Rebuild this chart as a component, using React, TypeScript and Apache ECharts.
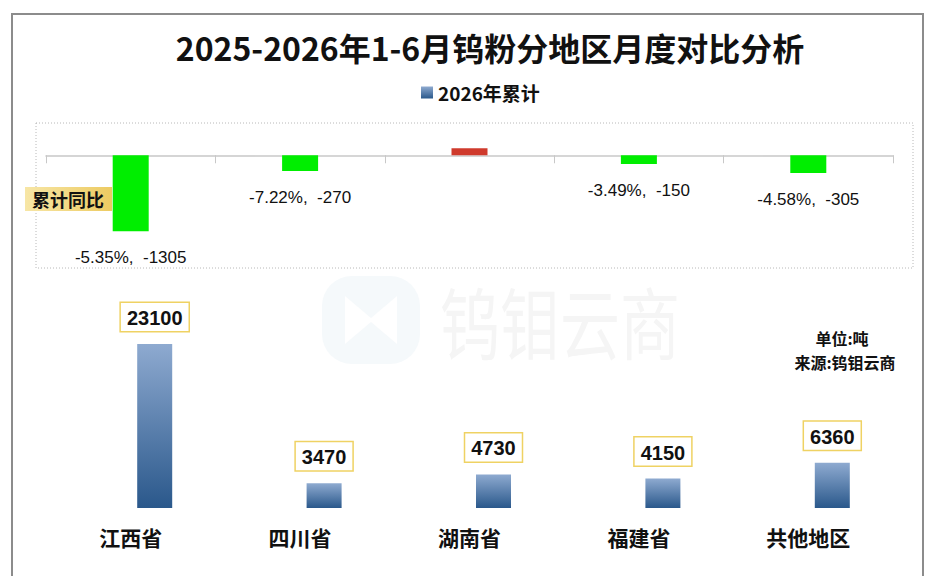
import React, { useEffect, useRef } from 'react';
import * as echarts from 'echarts';

const regions = ['江西省', '四川省', '湖南省', '福建省', '共他地区'];
const cumulative2026 = [23100, 3470, 4730, 4150, 6360];
const yoyChange = [-1305, -270, 120, -150, -305];
const yoyPct: (number | null)[] = [-5.35, -7.22, null, -3.49, -4.58];

const CJK = '"Noto Sans CJK SC", "Noto Sans", sans-serif';
const NUM = '"Liberation Sans", Arial, sans-serif';

export default function App() {
  const ref = useRef<HTMLDivElement>(null);
  useEffect(() => {
    document.body.style.margin = '0';
    const chart = echarts.init(ref.current!, null, { renderer: 'svg' });
    const barGrad = new echarts.graphic.LinearGradient(0, 0, 0, 1, [
      { offset: 0, color: '#8eaad0' },
      { offset: 1, color: '#2a588b' },
    ]);
    chart.setOption({
      animation: false,
      backgroundColor: '#ffffff',
      title: {
        text: '2025-2026年1-6月钨粉分地区月度对比分析',
        left: 485,
        top: 26,
        textAlign: 'center',
        textStyle: { fontFamily: CJK, fontSize: 32, fontWeight: 'bold', color: '#111' },
      },
      legend: {
        data: ['2026年累计'],
        left: 416,
        top: 78,
        icon: 'rect',
        itemWidth: 12,
        itemHeight: 12,
        itemGap: 4,
        textStyle: { fontFamily: CJK, fontSize: 19, fontWeight: 'bold', color: '#111' },
      },
      grid: [
        { left: 46, right: 36, top: 132, height: 128 },
        { left: 70, right: 12, top: 295, height: 213 },
      ],
      xAxis: [
        {
          type: 'category',
          gridIndex: 0,
          data: regions,
          axisLine: { onZero: true, lineStyle: { color: '#c8c8c8', width: 1.5 } },
          axisTick: { show: true, length: 8, lineStyle: { color: '#c8c8c8' } },
          axisLabel: { show: false },
        },
        {
          type: 'category',
          gridIndex: 1,
          data: regions,
          axisLine: { show: false },
          axisTick: { show: false },
          axisLabel: {
            margin: 18,
            fontFamily: CJK,
            fontSize: 21,
            fontWeight: 'bold',
            color: '#111',
            padding: [0, 48, 0, 0],
          },
        },
      ],
      yAxis: [
        { type: 'value', gridIndex: 0, min: -1800, max: 400, show: false, splitLine: { show: false } },
        { type: 'value', gridIndex: 1, min: 0, max: 30000, show: false, splitLine: { show: false } },
      ],
      series: [
        {
          name: '累计同比',
          type: 'bar',
          xAxisIndex: 0,
          yAxisIndex: 0,
          barWidth: 36,
          data: yoyChange.map((v, i) => ({
            value: v,
            itemStyle: { color: v < 0 ? '#00ee00' : '#cf3a2c' },
            label: { show: yoyPct[i] != null },
          })),
          label: {
            show: true,
            position: 'outside',
            distance: 18,
            fontFamily: NUM,
            fontSize: 17,
            color: '#111',
            formatter: (p: any) => {
              const pct = yoyPct[p.dataIndex];
              return pct == null ? '' : `${pct.toFixed(2)}%,  ${yoyChange[p.dataIndex]}`;
            },
          },
          z: 3,
        },
        {
          name: '2026年累计',
          type: 'bar',
          xAxisIndex: 1,
          yAxisIndex: 1,
          barWidth: 35,
          data: cumulative2026,
          itemStyle: { color: barGrad },
          label: {
            show: true,
            position: 'top',
            distance: 13,
            fontFamily: NUM,
            fontSize: 20,
            fontWeight: 'bold',
            color: '#111',
            backgroundColor: '#ffffff',
            borderColor: '#efd263',
            borderWidth: 1.5,
            padding: [5, 6, 3, 6],
          },
          z: 3,
        },
      ],
      graphic: [
        {
          type: 'rect',
          z: 0,
          shape: { x: 12, y: 14, width: 911, height: 600 },
          style: { fill: 'none', stroke: '#8c8c8c', lineWidth: 2 },
        },
        {
          type: 'rect',
          z: 0,
          shape: { x: 36, y: 123, width: 877, height: 145 },
          style: { fill: 'none', stroke: '#b8b8b8', lineWidth: 1, lineDash: [1, 2] },
        },
        {
          type: 'rect',
          z: 0,
          shape: { x: 322, y: 276, width: 98, height: 88, r: 30 },
          style: { fill: '#f5f9fb' },
        },
        {
          type: 'polygon',
          z: 0,
          shape: { points: [[345, 296], [371, 318], [397, 296], [397, 344], [371, 322], [345, 344]] },
          style: { fill: '#ffffff' },
        },
        {
          type: 'text',
          z: 0,
          x: 560,
          y: 320,
          scaleY: 1.3,
          style: {
            text: '钨钼云商',
            fontFamily: CJK,
            fontSize: 60,
            fill: '#f5f5f5',
            align: 'center',
            verticalAlign: 'middle',
          },
        },
        {
          type: 'rect',
          z: 4,
          shape: { x: 25, y: 187, width: 87, height: 24 },
          style: {
            fill: new echarts.graphic.LinearGradient(0, 0, 1, 0, [
              { offset: 0, color: '#f7e6a6' },
              { offset: 1, color: '#edcb62' },
            ]),
          },
        },
        {
          type: 'text',
          z: 5,
          x: 68,
          y: 199,
          style: {
            text: '累计同比',
            fontFamily: CJK,
            fontSize: 18,
            fontWeight: 'bold',
            fill: '#111',
            align: 'center',
            verticalAlign: 'middle',
          },
        },
        {
          type: 'text',
          z: 5,
          x: 842,
          y: 338,
          style: {
            text: '单位:吨',
            fontFamily: CJK,
            fontSize: 16,
            fontWeight: 'bold',
            fill: '#111',
            align: 'center',
            verticalAlign: 'middle',
          },
        },
        {
          type: 'text',
          z: 5,
          x: 845,
          y: 362,
          style: {
            text: '来源:钨钼云商',
            fontFamily: CJK,
            fontSize: 16,
            fontWeight: 'bold',
            fill: '#111',
            align: 'center',
            verticalAlign: 'middle',
          },
        },
      ],
    });
    return () => chart.dispose();
  }, []);
  return <div ref={ref} style={{ width: 929, height: 576 }} />;
}
